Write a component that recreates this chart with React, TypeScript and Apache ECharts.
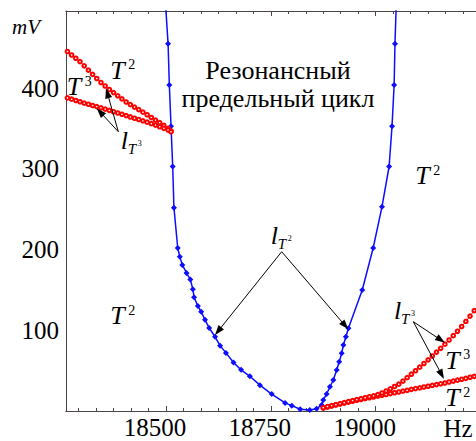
import React, { useEffect, useRef } from "react";
import * as echarts from "echarts";

const SERIF = "Liberation Serif";
const AXIS = "#4a4444";
const BLUE = "#0d0dff";
const RED = "#ff0000";

// Axis ranges
const X_MIN = 18261.6;
const X_MAX = 19239.2;
const Y_MAX = 495.7;

// Tick positions (Hz)
const majorTicks = [18500, 18750, 19000];
const minorTicks = [
  18291.7, 18333.3, 18375, 18416.7, 18458.3, 18541.7, 18583.3, 18625, 18666.7, 18708.3,
  18791.7, 18833.3, 18875, 18916.7, 18958.3, 19041.7, 19083.3, 19125, 19166.7, 19208.3,
];
const yTicks = [100, 200, 300, 400];

// Resonant limit cycle, l_T2 (blue)
const resonanceFreq = [
  18497, 18505, 18508, 18512, 18516, 18519, 18528, 18533, 18539, 18549, 18558, 18564, 18567,
  18576, 18584, 18593, 18603, 18617, 18629, 18643, 18661, 18679, 18700, 18724, 18752, 18784,
  18800, 18820, 18843, 18859, 18871, 18875, 18883, 18891, 18899, 18907, 18913, 18919, 18923,
  18929, 18935, 18968, 18994, 19015, 19032, 19039, 19044, 19046, 19050,
];
const resonanceMv = [
  520, 455, 404, 353, 303, 252, 202, 191, 181, 171, 163, 151, 141, 130, 123, 113, 103, 92, 81,
  72, 60, 51, 43, 32, 21, 10, 6.6, 2.1, 1.2, 2.9, 7.4, 13.6, 21.1, 30.1, 38.4, 50.8, 61.1, 71.5,
  81.8, 92.1, 102.5, 150, 202, 253, 303, 353, 404, 455, 519,
];

// Left branches l_T3 (red)
const leftFreq = [
  18265, 18275, 18285, 18295, 18305, 18315, 18325, 18335, 18345, 18355, 18365, 18375, 18385,
  18395, 18405, 18415, 18425, 18435, 18445, 18455, 18465, 18475, 18485, 18495, 18505, 18512,
];
const leftUpperMv = [
  445.5, 441.2, 437.1, 432.9, 427.7, 422.4, 417.2, 412.0, 407.1, 402.7, 398.4, 394.6, 390.6,
  386.8, 382.9, 379.7, 376.6, 373.5, 370.3, 367.1, 363.7, 360.5, 357.3, 354.0, 350.3, 347.0,
];
const leftLowerMv = [
  388.0, 386.4, 384.8, 383.2, 381.5, 380.1, 378.6, 377.2, 375.7, 374.1, 372.5, 370.9, 369.3,
  367.7, 366.1, 364.4, 362.8, 361.2, 359.6, 357.9, 356.1, 354.3, 352.3, 350.3, 348.2, 346.1,
];

// Right branches l_T3 (red)
const rightFreq = [
  18875, 18885, 18895, 18905, 18915, 18925, 18935, 18945, 18955, 18965, 18975, 18985, 18995,
  19005, 19015, 19025, 19035, 19045, 19055, 19065, 19075, 19085, 19095, 19105, 19115, 19125,
  19135, 19145, 19155, 19165, 19175, 19185, 19195, 19205, 19215, 19225, 19235, 19245,
];
const rightT2Mv = [
  3.7, 5.0, 6.2, 7.4, 8.6, 9.8, 11.0, 12.1, 13.3, 14.3, 15.4, 16.4, 17.3, 18.5, 19.5, 20.4, 21.6,
  22.6, 23.5, 24.7, 25.6, 26.8, 27.8, 28.7, 29.7, 30.7, 31.7, 32.7, 33.7, 34.7, 35.9, 37.1, 38.2,
  39.4, 40.5, 41.8, 42.9, 44.1,
];
const rightT3Mv = [
  4.2, 5.5, 6.7, 7.9, 9.2, 10.4, 11.6, 12.9, 14.1, 15.2, 16.4, 17.6, 18.8, 20.3, 22.3, 24.8, 27.5,
  30.4, 33.3, 37.0, 41.3, 45.6, 49.9, 54.3, 58.9, 63.4, 68.2, 73.0, 77.7, 82.8, 88.0, 93.4, 98.8,
  104.7, 111.0, 117.6, 124.4, 131.4,
];

const zip = (xs: number[], ys: number[]) => xs.map((x, i) => [x, ys[i]]);

function txt(x: number, y: number, text: string, size: number, italic = false, align = "left") {
  const style: Record<string, unknown> = {
    text,
    fontFamily: SERIF,
    fontSize: size,
    fill: "#000",
    align,
    verticalAlign: "middle",
  };
  if (italic) style.fontStyle = "italic";
  return { type: "text", x, y, z: 10, style };
}

// Italic T with an upright power
function tPower(left: number, cy: number, p: string) {
  return [txt(left - 1.5, cy, "T", 26, true), txt(left + 16.5, cy - 5.5, p, 14)];
}

// l with subscript T^p
function lLabel(left: number, cy: number, p: string) {
  return [
    txt(left - 1, cy, "l", 26, true),
    txt(left + 6, cy + 8.5, "T", 15, true),
    txt(left + 16, cy + 3.5, p, 8),
  ];
}

function arrow(x1: number, y1: number, x2: number, y2: number) {
  const dx = x2 - x1;
  const dy = y2 - y1;
  const len = Math.hypot(dx, dy);
  const ux = dx / len;
  const uy = dy / len;
  const hl = 10;
  const hw = 3.5;
  const bx = x2 - ux * hl;
  const by = y2 - uy * hl;
  return [
    {
      type: "line",
      z: 10,
      shape: { x1, y1, x2: bx + ux * 2, y2: by + uy * 2 },
      style: { stroke: "#000", lineWidth: 1 },
    },
    {
      type: "polygon",
      z: 10,
      shape: {
        points: [
          [x2, y2],
          [bx - uy * hw, by + ux * hw],
          [bx + uy * hw, by - ux * hw],
        ],
      },
      style: { fill: "#000" },
    },
  ];
}

function xAxisDef(position: string, ticks: number[], len: number, labels: boolean) {
  return {
    type: "value",
    position,
    min: X_MIN,
    max: X_MAX,
    axisLine: { show: true, onZero: false, lineStyle: { color: AXIS, width: 1 } },
    axisTick: {
      show: true,
      inside: true,
      length: len,
      customValues: ticks,
      lineStyle: { color: AXIS, width: 1 },
    },
    axisLabel: labels
      ? {
          show: true,
          customValues: majorTicks,
          formatter: (v: number) => String(v),
          fontFamily: SERIF,
          fontSize: 25,
          color: "#000",
          margin: 4,
          padding: [0, 22, 0, 0],
        }
      : { show: false },
    splitLine: { show: false },
  };
}

export default function App() {
  const ref = useRef<HTMLDivElement>(null);

  useEffect(() => {
    document.body.style.margin = "0";
    if (!ref.current) return;
    const chart = echarts.init(ref.current, null, { renderer: "svg" });

    const redSeries = (data: number[][]) => ({
      type: "line",
      data,
      symbol: "emptyCircle",
      symbolSize: 3.6,
      showAllSymbol: true,
      lineStyle: { color: RED, width: 1 },
      itemStyle: { color: RED, borderColor: RED, borderWidth: 1 },
      z: 3,
    });

    const graphic = [
      txt(278, 70, "Резонансный", 26, false, "center"),
      txt(278, 98, "предельный цикл", 26, false, "center"),
      txt(12, 27, "mV", 21, true),
      txt(458, 428, "Hz", 25, false, "center"),
      ...tPower(111.7, 70, "2"),
      ...tPower(68.3, 86.7, "3"),
      ...tPower(111.7, 315.8, "2"),
      ...tPower(416.7, 175.8, "2"),
      ...tPower(446.7, 360, "3"),
      ...tPower(446.7, 397.5, "2"),
      ...lLabel(121.7, 140, "3"),
      ...lLabel(271.7, 235, "2"),
      ...lLabel(395, 310, "3"),
      ...arrow(118.3, 131.7, 106, 88.3),
      ...arrow(118.3, 131.7, 96.7, 108.3),
      ...arrow(281.7, 251.7, 215, 335),
      ...arrow(281.7, 251.7, 348.3, 329.3),
      ...arrow(413.3, 321.7, 445, 342.7),
      ...arrow(413.3, 321.7, 444, 379),
    ];

    chart.setOption({
      animation: false,
      grid: { left: 66, top: 11, right: 0, bottom: 30, containLabel: false },
      xAxis: [
        xAxisDef("bottom", majorTicks, 5, true),
        xAxisDef("bottom", minorTicks, 3, false),
        xAxisDef("top", majorTicks, 5, false),
        xAxisDef("top", minorTicks, 3, false),
      ],
      yAxis: {
        type: "value",
        min: 0,
        max: Y_MAX,
        interval: 100,
        axisLine: { show: true, lineStyle: { color: AXIS, width: 1 } },
        axisTick: { show: false },
        axisLabel: {
          customValues: yTicks,
          formatter: (v: number) => String(v),
          fontFamily: SERIF,
          fontSize: 25,
          color: "#000",
          margin: 7,
        },
        splitLine: { show: false },
      },
      series: [
        {
          type: "line",
          data: zip(resonanceFreq, resonanceMv),
          symbol: "diamond",
          symbolSize: 6,
          showAllSymbol: true,
          lineStyle: { color: BLUE, width: 1.5 },
          itemStyle: { color: BLUE },
          z: 2,
        },
        redSeries(zip(leftFreq, leftUpperMv)),
        redSeries(zip(leftFreq, leftLowerMv)),
        redSeries(zip(rightFreq, rightT2Mv)),
        redSeries(zip(rightFreq, rightT3Mv)),
      ],
      graphic,
    });

    return () => chart.dispose();
  }, []);

  return <div ref={ref} style={{ width: 476, height: 441 }} />;
}
